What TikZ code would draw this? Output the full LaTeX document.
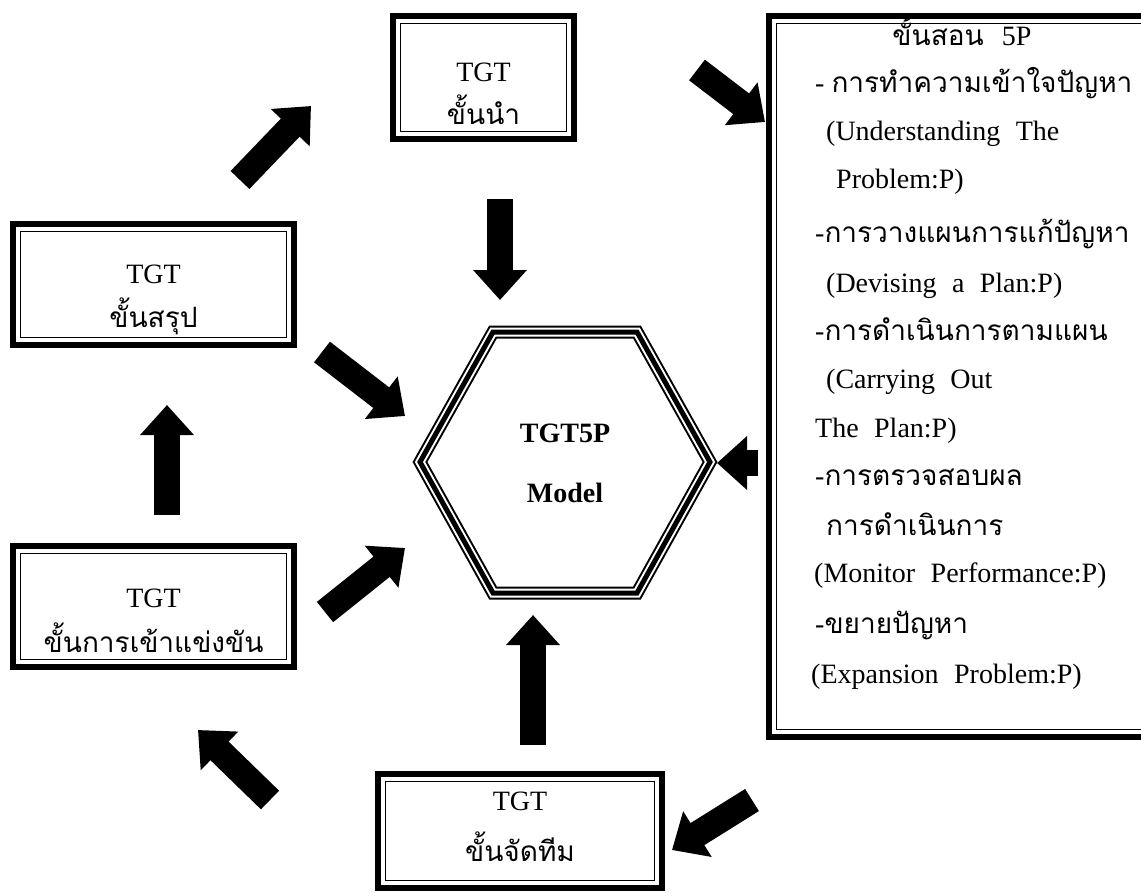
\documentclass[tikz,border=0pt]{standalone}
\usepackage{fontspec}
\setmainfont{Liberation Serif}
\newfontfamily\thai[Script=Thai]{Loma}
\usetikzlibrary{arrows.meta}
\begin{document}
\begin{tikzpicture}[x=1pt,y=-1pt,
  box/.style={draw, line width=6pt, inner sep=0pt, outer sep=0pt, fill=white},
  txt/.style={font=\fontsize{28}{34}\selectfont, inner sep=0pt, anchor=base},
  ltxt/.style={txt, anchor=base west},
  blk/.style={line width=26pt, -{Triangle[length=30pt,width=52pt]}},
  thinline/.style={line width=1.8pt}
]
\useasboundingbox (0,0) rectangle (1141,895);

% ---------- boxes ----------
\node[box, minimum width=181, minimum height=123, anchor=north west] (intro) at (393,16) {};
\draw[thinline] ([shift={(7.5,7.5)}]intro.north west) rectangle ([shift={(-7.5,-7.5)}]intro.south east);
\node[txt] (introA) at (483.5,81) {TGT};
\node[txt] (introB) at (483.5,124) {\thai ขั้นนำ};

\node[box, minimum width=281, minimum height=121, anchor=north west] (concl) at (13,224) {};
\draw[thinline] ([shift={(7.5,7.5)}]concl.north west) rectangle ([shift={(-7.5,-7.5)}]concl.south east);
\node[txt] (conclA) at (153.5,283) {TGT};
\node[txt] (conclB) at (153.5,327) {\thai ขั้นสรุป};

\node[box, minimum width=281, minimum height=121, anchor=north west] (comp) at (13,546) {};
\draw[thinline] ([shift={(7.5,7.5)}]comp.north west) rectangle ([shift={(-7.5,-7.5)}]comp.south east);
\node[txt] (compA) at (153.5,607) {TGT};
\node[txt] (compB) at (153.5,652) {\thai ขั้นการเข้าแข่งขัน};

\node[box, minimum width=284, minimum height=114, anchor=north west] (team) at (378,774) {};
\draw[thinline] ([shift={(7.5,7.5)}]team.north west) rectangle ([shift={(-7.5,-7.5)}]team.south east);
\node[txt] (teamA) at (520,810) {TGT};
\node[txt] (teamB) at (520,861) {\thai ขั้นจัดทีม};

\node[box, minimum width=390, minimum height=721, anchor=north west] (steps) at (769,16) {};
\draw[thinline] ([shift={(7.5,7.5)}]steps.north west) rectangle ([shift={(-7.5,-7.5)}]steps.south east);

\node[txt] (s1) at (962,45) {{\thai ขั้นสอน}\hspace{0.4em} 5P};
\node[ltxt] (s2) at (815,92) {- {\thai การทำความเข้าใจปัญหา}};
\node[ltxt] (s3) at (826,140) {(Understanding\hspace{0.3em} The};
\node[ltxt] (s4) at (836,188) {Problem:P)};
\node[ltxt] (s5) at (815,242) {-{\thai การวางแผนการแก้ปัญหา}};
\node[ltxt] (s6) at (826,292) {(Devising\hspace{0.3em} a\hspace{0.3em} Plan:P)};
\node[ltxt] (s7) at (815,340) {-{\thai การดำเนินการตามแผน}};
\node[ltxt] (s8) at (826,388) {(Carrying\hspace{0.3em} Out};
\node[ltxt] (s9) at (815,437) {The\hspace{0.3em} Plan:P)};
\node[ltxt] (s10) at (815,485) {-{\thai การตรวจสอบผล}};
\node[ltxt] (s11) at (826,535) {\thai การดำเนินการ};
\node[ltxt] (s12) at (814,582) {(Monitor\hspace{0.3em} Performance:P)};
\node[ltxt] (s13) at (815,633) {-{\thai ขยายปัญหา}};
\node[ltxt] (s14) at (811,683) {(Expansion\hspace{0.3em} Problem:P)};

% ---------- hexagon ----------
\coordinate (hL) at (420,462);
\coordinate (hTL) at (493,332);
\coordinate (hTR) at (637,332);
\coordinate (hR) at (710,462);
\coordinate (hBR) at (637,593);
\coordinate (hBL) at (493,593);
\foreach \w/\c in {13/black,9/white,5/black}
  \draw[line width=\w pt, line join=miter, \c] (hL) -- (hTL) -- (hTR) -- (hR) -- (hBR) -- (hBL) -- cycle;
\node[txt, font=\fontsize{28}{34}\selectfont\bfseries] (core1) at (565,442) {TGT5P};
\node[txt, font=\fontsize{28}{34}\selectfont\bfseries] (core2) at (565,502) {Model};

% ---------- arrows ----------
\coordinate (a1s) at (240,180);  \coordinate (a1e) at (311,106);
\coordinate (a2s) at (500,199);  \coordinate (a2e) at (500,300);
\coordinate (a3s) at (697,70);   \coordinate (a3e) at (765,122);
\coordinate (a4s) at (322,352);  \coordinate (a4e) at (405,416);
\coordinate (a5s) at (167,515);  \coordinate (a5e) at (167,405);
\coordinate (a6s) at (325,612);  \coordinate (a6e) at (405,548);
\coordinate (a7s) at (533,745);  \coordinate (a7e) at (533,615);
\coordinate (a8s) at (758,463);  \coordinate (a8e) at (717,463);
\coordinate (a9s) at (752,800);  \coordinate (a9e) at (672,850);
\coordinate (a10s) at (270,800); \coordinate (a10e) at (198,730);
\foreach \i in {1,...,10}
  \draw[blk] (a\i s) -- (a\i e);
\end{tikzpicture}
\end{document}
